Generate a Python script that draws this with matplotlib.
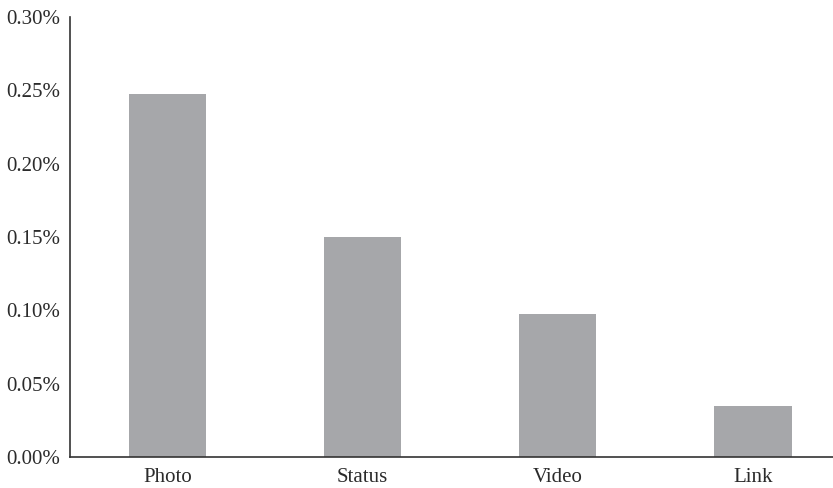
import matplotlib.pyplot as plt
from matplotlib.ticker import FuncFormatter

categories = ["Photo", "Status", "Video", "Link"]
values = [0.2475, 0.150, 0.0975, 0.035]  # percent
yticks = [0.0, 0.05, 0.10, 0.15, 0.20, 0.25, 0.30]

plt.rcParams['font.family'] = ['Liberation Serif', 'DejaVu Serif']

fig = plt.figure(figsize=(8.33, 4.88), dpi=100)
ax = fig.add_axes([0.084, 0.0635, 0.916, 0.9015])

x = range(len(categories))
ax.bar(x, values, width=0.395, color="#a6a7aa")

ax.set_xlim(-0.5, 3.41)
ax.set_ylim(0, 0.30)
ax.set_xticks(list(x))
ax.set_xticklabels(categories)
ax.set_yticks(yticks)
ax.yaxis.set_major_formatter(FuncFormatter(lambda v, p: f"{v:.2f}%"))
ax.tick_params(length=0, labelsize=15, colors="#2b2b2b")
ax.tick_params(axis="y", pad=7)
ax.tick_params(axis="x", pad=8)

for s in ["top", "right"]:
    ax.spines[s].set_visible(False)
for s in ["left", "bottom"]:
    ax.spines[s].set_color("#333333")
    ax.spines[s].set_linewidth(1.2)

fig.savefig("out.png", dpi=100)
